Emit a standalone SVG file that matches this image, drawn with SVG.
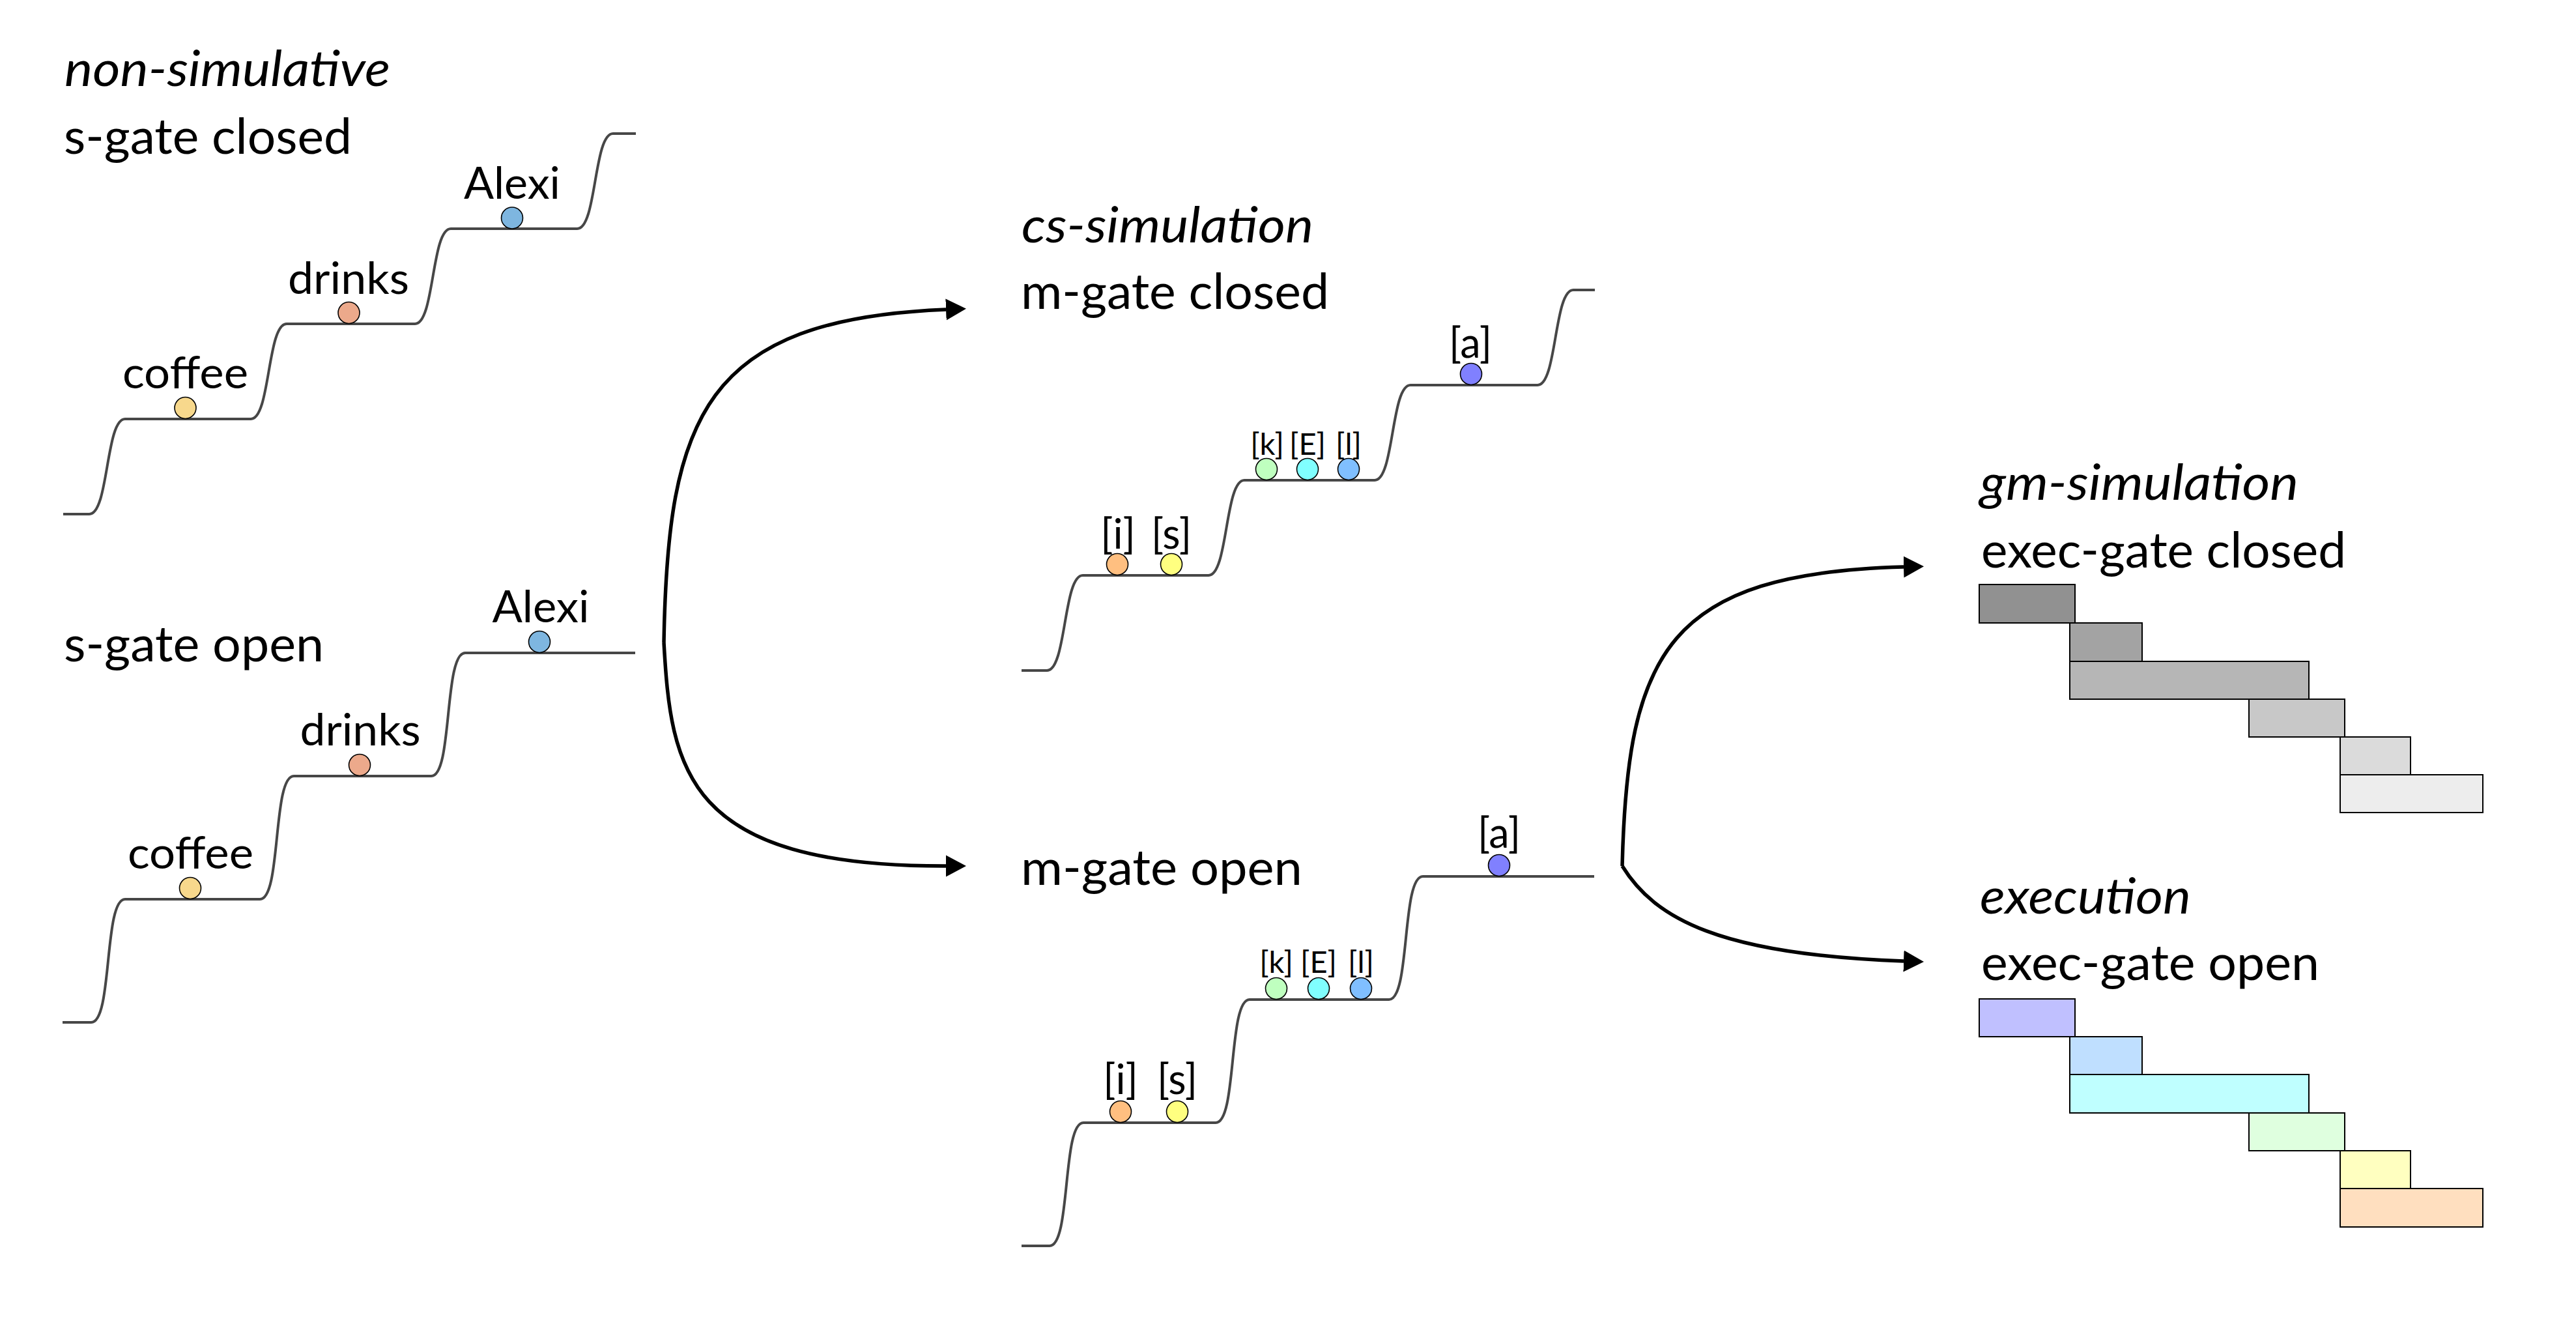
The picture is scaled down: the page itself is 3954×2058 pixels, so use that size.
<svg xmlns="http://www.w3.org/2000/svg" width="3954" height="2058" viewBox="0 0 3954 2058">
<style>
  .bg{fill:#ffffff}
  .stair{fill:none;stroke:#474747;stroke-width:4;stroke-linejoin:round;stroke-linecap:butt}
  .dot{stroke:#000000;stroke-width:1.6}
  .t{font-family:Lato,"Open Sans","Liberation Sans",sans-serif;fill:#000000}
  .h{font-size:75px}
  .hi{font-size:75px;font-style:italic}
  .w{font-size:67px;text-anchor:middle}
  .pb{font-size:63px;text-anchor:middle}
  .ps{font-size:47px;text-anchor:middle}
  .conn{fill:none;stroke:#000000;stroke-width:5.5;marker-end:url(#ah)}
  .box{stroke:#000000;stroke-width:2}
</style>
<defs>
  <marker id="ah" markerUnits="userSpaceOnUse" markerWidth="34" markerHeight="36" refX="0" refY="17" orient="auto" viewBox="0 0 34 36">
    <path d="M0,0.5 L31,17 L0,33.5 Z" fill="#000000"/>
  </marker>
</defs>
<rect class="bg" x="0" y="0" width="3954" height="2058"/>

<g id="panel-nonsim-closed">
  <text class="t hi" x="99" y="132" textLength="500" lengthAdjust="spacingAndGlyphs">non-simulative</text>
  <text class="t h" x="98" y="236" textLength="442" lengthAdjust="spacingAndGlyphs">s-gate closed</text>
  <path class="stair" d="M97,789 H137 c30,0 25,-146 55,-146 H385 c30,0 25,-146 55,-146 H637 c30,0 25,-146 55,-146 H886 c30,0 25,-146 55,-146 H976"/>
  <g id="ns-closed-coffee">
    <circle class="dot" cx="284.5" cy="626" r="16.5" fill="#f7d88c"/>
    <text class="t w" x="284.5" y="596" textLength="193" lengthAdjust="spacingAndGlyphs">coffee</text>
  </g>
  <g id="ns-closed-drinks">
    <circle class="dot" cx="535.5" cy="480" r="16.5" fill="#eca98b"/>
    <text class="t w" x="535" y="451" textLength="186" lengthAdjust="spacingAndGlyphs">drinks</text>
  </g>
  <g id="ns-closed-alexi">
    <circle class="dot" cx="786" cy="334.5" r="16.5" fill="#7eb6e0"/>
    <text class="t w" x="786" y="305" textLength="148" lengthAdjust="spacingAndGlyphs">Alexi</text>
  </g>
</g>

<g id="panel-nonsim-open">
  <text class="t h" x="98" y="1015" textLength="399" lengthAdjust="spacingAndGlyphs">s-gate open</text>
  <path class="stair" d="M96,1569 H140 c33,0 19,-189 52,-189 H399 c33,0 19,-189 52,-189 H662 c33,0 19,-189 52,-189 H975"/>
  <g id="ns-open-coffee">
    <circle class="dot" cx="292" cy="1363" r="16.5" fill="#f7d88c"/>
    <text class="t w" x="292.5" y="1333" textLength="193" lengthAdjust="spacingAndGlyphs">coffee</text>
  </g>
  <g id="ns-open-drinks">
    <circle class="dot" cx="552" cy="1174" r="16.5" fill="#eca98b"/>
    <text class="t w" x="553" y="1144" textLength="185" lengthAdjust="spacingAndGlyphs">drinks</text>
  </g>
  <g id="ns-open-alexi">
    <circle class="dot" cx="828" cy="985" r="16.5" fill="#7eb6e0"/>
    <text class="t w" x="830" y="955" textLength="149" lengthAdjust="spacingAndGlyphs">Alexi</text>
  </g>
</g>

<g id="panel-cs-closed">
  <text class="t hi" x="1568" y="372" textLength="448" lengthAdjust="spacingAndGlyphs">cs-simulation</text>
  <text class="t h" x="1567" y="474" textLength="473" lengthAdjust="spacingAndGlyphs">m-gate closed</text>
  <path class="stair" d="M1568,1029 H1607 c30,0 25,-146 55,-146 H1855 c30,0 25,-146 55,-146 H2110 c30,0 25,-146 55,-146 H2360 c30,0 25,-146 55,-146 H2448"/>
  <g id="cs-closed-i">
    <circle class="dot" cx="1715" cy="866" r="16.5" fill="#ffbf80"/>
    <text class="t pb" x="1716" y="842">[i]</text>
  </g>
  <g id="cs-closed-s">
    <circle class="dot" cx="1798" cy="866" r="16.5" fill="#ffff80"/>
    <text class="t pb" x="1798" y="842">[s]</text>
  </g>
  <g id="cs-closed-k">
    <circle class="dot" cx="1944" cy="720" r="16.5" fill="#bfffbf"/>
    <text class="t ps" x="1945" y="698">[k]</text>
  </g>
  <g id="cs-closed-E">
    <circle class="dot" cx="2007" cy="720" r="16.5" fill="#80ffff"/>
    <text class="t ps" x="2007" y="698">[E]</text>
  </g>
  <g id="cs-closed-l">
    <circle class="dot" cx="2070" cy="720" r="16.5" fill="#80bfff"/>
    <text class="t ps" x="2070" y="698">[l]</text>
  </g>
  <g id="cs-closed-a">
    <circle class="dot" cx="2258" cy="574" r="16.5" fill="#8080ff"/>
    <text class="t pb" x="2257" y="549">[a]</text>
  </g>
</g>

<g id="panel-cs-open">
  <text class="t h" x="1567" y="1358" textLength="432" lengthAdjust="spacingAndGlyphs">m-gate open</text>
  <path class="stair" d="M1568,1912 H1611 c33,0 19,-189 52,-189 H1866 c33,0 19,-189 52,-189 H2132 c33,0 19,-189 52,-189 H2447"/>
  <g id="cs-open-i">
    <circle class="dot" cx="1720" cy="1706" r="16.5" fill="#ffbf80"/>
    <text class="t pb" x="1720" y="1679">[i]</text>
  </g>
  <g id="cs-open-s">
    <circle class="dot" cx="1807" cy="1706" r="16.5" fill="#ffff80"/>
    <text class="t pb" x="1807" y="1679">[s]</text>
  </g>
  <g id="cs-open-k">
    <circle class="dot" cx="1959" cy="1517" r="16.5" fill="#bfffbf"/>
    <text class="t ps" x="1959" y="1493">[k]</text>
  </g>
  <g id="cs-open-E">
    <circle class="dot" cx="2024" cy="1517" r="16.5" fill="#80ffff"/>
    <text class="t ps" x="2024" y="1493">[E]</text>
  </g>
  <g id="cs-open-l">
    <circle class="dot" cx="2089" cy="1517" r="16.5" fill="#80bfff"/>
    <text class="t ps" x="2089" y="1493">[l]</text>
  </g>
  <g id="cs-open-a">
    <circle class="dot" cx="2301" cy="1328" r="16.5" fill="#8080ff"/>
    <text class="t pb" x="2301" y="1301">[a]</text>
  </g>
</g>

<g id="panel-gm-closed">
  <text class="t hi" x="3039" y="767" textLength="489" lengthAdjust="spacingAndGlyphs">gm-simulation</text>
  <text class="t h" x="3041" y="871" textLength="560" lengthAdjust="spacingAndGlyphs">exec-gate closed</text>
  <g id="gm-boxes">
    <rect class="box" x="3038" y="897" width="147" height="59" fill="#919191"/>
    <rect class="box" x="3177" y="956" width="111" height="59" fill="#a3a3a3"/>
    <rect class="box" x="3177" y="1015" width="367" height="58" fill="#b6b6b6"/>
    <rect class="box" x="3452" y="1073" width="147" height="58" fill="#c8c8c8"/>
    <rect class="box" x="3592" y="1131" width="108" height="58" fill="#dbdbdb"/>
    <rect class="box" x="3592" y="1189" width="219" height="58" fill="#ededed"/>
  </g>
</g>

<g id="panel-execution">
  <text class="t hi" x="3039" y="1402" textLength="324" lengthAdjust="spacingAndGlyphs">execution</text>
  <text class="t h" x="3041" y="1504" textLength="519" lengthAdjust="spacingAndGlyphs">exec-gate open</text>
  <g id="exec-boxes">
    <rect class="box" x="3038" y="1533" width="147" height="58" fill="#c0c0ff"/>
    <rect class="box" x="3177" y="1591" width="111" height="58" fill="#bfdfff"/>
    <rect class="box" x="3177" y="1649" width="367" height="59" fill="#bfffff"/>
    <rect class="box" x="3452" y="1708" width="147" height="58" fill="#dfffdf"/>
    <rect class="box" x="3592" y="1766" width="108" height="58" fill="#ffffc0"/>
    <rect class="box" x="3592" y="1824" width="219" height="59" fill="#ffdfbf"/>
  </g>
</g>

<g id="connectors">
  <path id="c-ns-to-csclosed" class="conn" d="M1019,986 C1025,640 1080,490 1452,475"/>
  <path id="c-ns-to-csopen" class="conn" d="M1019,986 C1030,1180 1050,1330 1452,1329"/>
  <path id="c-cs-to-gm" class="conn" d="M2490,1329 C2498,1000 2560,880 2922,870"/>
  <path id="c-cs-to-exec" class="conn" d="M2490,1329 C2540,1410 2640,1465 2922,1475"/>
</g>
</svg>
